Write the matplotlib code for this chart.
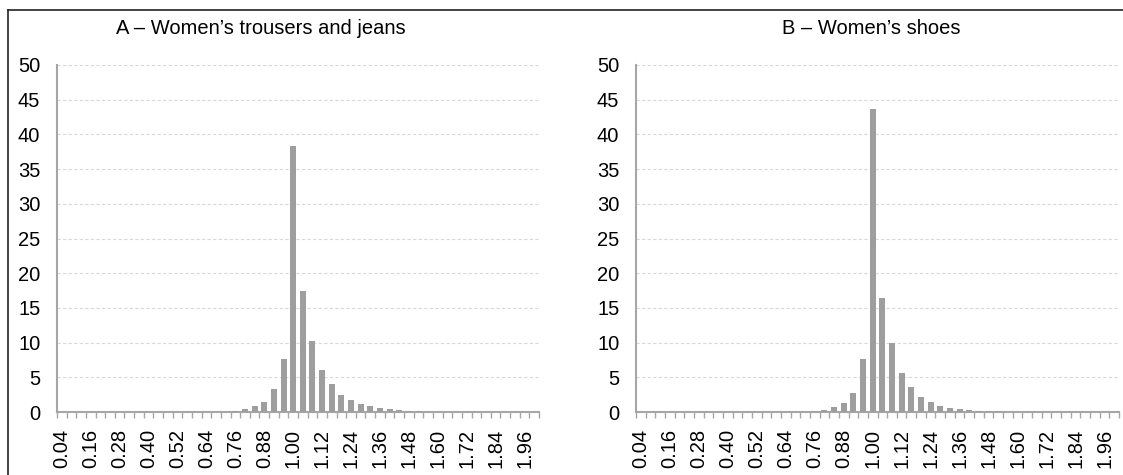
import matplotlib.pyplot as plt
from matplotlib.lines import Line2D

plt.rcParams['font.family'] = ['Liberation Sans', 'DejaVu Sans']

# price-ratio bins, 0.04 .. 2.00
bins = [round(0.04 * (i + 1), 2) for i in range(50)]
tick_labels = [f"{b:.2f}" for b in bins]

# share of observations (%) per bin
trousers = [0, 0, 0, 0, 0, 0, 0, 0, 0, 0,
            0, 0, 0, 0, 0, 0, 0, 0.05, 0.2, 0.4,
            0.9, 1.5, 3.3, 7.6, 38.4, 17.4, 10.2, 6.0, 4.0, 2.5,
            1.7, 1.2, 0.85, 0.55, 0.45, 0.3, 0.2, 0.15, 0.05, 0,
            0, 0, 0, 0, 0, 0, 0, 0, 0, 0]
shoes = [0, 0, 0, 0, 0, 0, 0, 0, 0, 0,
         0, 0, 0, 0, 0, 0, 0, 0, 0.15, 0.35,
         0.65, 1.3, 2.8, 7.6, 43.7, 16.4, 9.9, 5.6, 3.6, 2.2,
         1.5, 0.9, 0.6, 0.4, 0.3, 0.2, 0.1, 0.1, 0, 0,
         0, 0, 0, 0, 0, 0, 0, 0, 0, 0]

titles = ["A \u2013 Women\u2019s trousers and jeans", "B \u2013 Women\u2019s shoes"]

W, H = 1123, 475
fig = plt.figure(figsize=(W / 100, H / 100), dpi=100)

axis_grey = '#a6a6a6'
bar_grey = '#9e9e9e'
fs = 14.5

# pixel boxes for each panel: left, right, top, bottom
boxes = [(57, 539, 65, 412), (636, 1119, 65, 412)]
title_x = [261, 871]

for data, title, box, tx in zip([trousers, shoes], titles, boxes, title_x):
    x0, x1, y0, y1 = box
    ax = fig.add_axes([x0 / W, (H - y1) / H, (x1 - x0) / W, (y1 - y0) / H])
    pos = list(range(len(bins)))
    ax.bar(pos, data, width=0.62, color=bar_grey, zorder=3)

    ax.set_xlim(-0.5, len(bins) - 0.5)
    ax.set_ylim(0, 50)
    ax.set_yticks(range(0, 51, 5))
    ax.yaxis.grid(True, linestyle=(0, (3, 2)), color='#d9d9d9', linewidth=0.8, zorder=0)

    ax.set_xticks(pos[::3])
    ax.set_xticklabels(tick_labels[::3], rotation=90)
    ax.set_xticks([p - 0.5 for p in pos] + [len(bins) - 0.5], minor=True)
    ax.tick_params(axis='x', which='major', length=0, pad=12, labelsize=fs)
    ax.tick_params(axis='x', which='minor', length=4, color=axis_grey, width=1)
    ax.tick_params(axis='y', length=0, pad=12, labelsize=fs)

    for side in ['top', 'right']:
        ax.spines[side].set_visible(False)
    for side in ['left', 'bottom']:
        ax.spines[side].set_color(axis_grey)
        ax.spines[side].set_linewidth(1.5)

    fig.text(tx / W, (H - 29) / H, title, ha='center', va='center', fontsize=fs)

# outer frame
fig.add_artist(Line2D([8 / W, 1], [(H - 10) / H, (H - 10) / H], color='#222222', linewidth=1.2))
fig.add_artist(Line2D([8 / W, 8 / W], [0, (H - 10) / H], color='#222222', linewidth=1.2))

fig.savefig('out.png', dpi=100)
